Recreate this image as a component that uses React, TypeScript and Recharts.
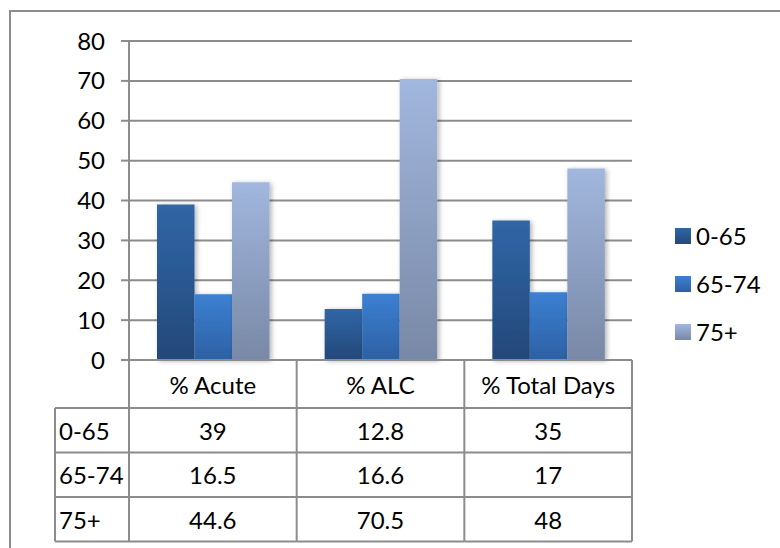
import React from 'react';
import { BarChart, Bar, XAxis, YAxis, CartesianGrid, Legend } from 'recharts';

// Categories and series values
const categories = ['% Acute', '% ALC', '% Total Days'];
const seriesNames = ['0-65', '65-74', '75+'];
const values0to65 = [39, 12.8, 35];
const values65to74 = [16.5, 16.6, 17];
const values75plus = [44.6, 70.5, 48];
const yTicks = [0, 10, 20, 30, 40, 50, 60, 70, 80];

const seriesValues = [values0to65, values65to74, values75plus];
const seriesKeys = ['s0', 's1', 's2'];

const data = categories.map((c, i) => ({
  category: c,
  s0: values0to65[i],
  s1: values65to74[i],
  s2: values75plus[i],
}));

// Geometry
const W = 780;
const H = 548;
const PLOT_LEFT = 129;
const PLOT_RIGHT = 632;
const PLOT_TOP = 41;
const PLOT_BOTTOM = 360;
const Y_AXIS_W = 70;
const X_AXIS_H = 181;
const BAND = (PLOT_RIGHT - PLOT_LEFT) / categories.length;
const HEADER_H = 48;
const ROW_H = 44.5;
const LABEL_COL_LEFT = 55;
const TABLE_BOTTOM = PLOT_BOTTOM + HEADER_H + ROW_H * seriesNames.length;

const FONT = 'Lato, "Open Sans", sans-serif';
const FONT_SIZE = 24;
const LINE = '#8c8c8c';
const LINE_W = 2;

const gradients = [
  { id: 'grad0', top: '#3066a6', bottom: '#24487a' },
  { id: 'grad1', top: '#3c80d2', bottom: '#2d60a4' },
  { id: 'grad2', top: '#a2b7de', bottom: '#7888a6' },
];

// Category header plus the data table rows under the plot
function TableTick(props: any) {
  const { payload } = props;
  const idx = categories.indexOf(payload.value);
  const cx = payload.coordinate;
  const left = cx - BAND / 2;
  const right = cx + BAND / 2;
  const rowTop = (r: number) => PLOT_BOTTOM + HEADER_H + ROW_H * r;
  const isFirst = idx === 0;
  const lineLeft = isFirst ? LABEL_COL_LEFT : left;

  return (
    <g>
      {isFirst && (
        <line x1={left} y1={PLOT_BOTTOM} x2={left} y2={TABLE_BOTTOM} stroke={LINE} strokeWidth={LINE_W} />
      )}
      {isFirst && (
        <line x1={LABEL_COL_LEFT} y1={rowTop(0)} x2={LABEL_COL_LEFT} y2={TABLE_BOTTOM} stroke={LINE} strokeWidth={LINE_W} />
      )}
      <line x1={right} y1={PLOT_BOTTOM} x2={right} y2={TABLE_BOTTOM} stroke={LINE} strokeWidth={LINE_W} />
      {seriesNames.map((_, r) => (
        <line key={`h${r}`} x1={lineLeft} y1={rowTop(r)} x2={right} y2={rowTop(r)} stroke={LINE} strokeWidth={LINE_W} />
      ))}
      <line x1={lineLeft} y1={TABLE_BOTTOM} x2={right} y2={TABLE_BOTTOM} stroke={LINE} strokeWidth={LINE_W} />
      <text
        x={cx}
        y={PLOT_BOTTOM + HEADER_H / 2}
        textAnchor="middle"
        dominantBaseline="central"
        fontFamily={FONT}
        fontSize={FONT_SIZE}
        fill="#000"
      >
        {payload.value}
      </text>
      {seriesValues.map((vals, r) => (
        <text
          key={`v${r}`}
          x={cx}
          y={rowTop(r) + ROW_H / 2}
          textAnchor="middle"
          dominantBaseline="central"
          fontFamily={FONT}
          fontSize={FONT_SIZE}
          fill="#000"
        >
          {String(vals[idx])}
        </text>
      ))}
      {isFirst &&
        seriesNames.map((name, r) => (
          <text
            key={`n${r}`}
            x={LABEL_COL_LEFT + 4}
            y={rowTop(r) + ROW_H / 2}
            textAnchor="start"
            dominantBaseline="central"
            fontFamily={FONT}
            fontSize={FONT_SIZE}
            fill="#000"
          >
            {name}
          </text>
        ))}
    </g>
  );
}

function SideLegend() {
  return (
    <div style={{ fontFamily: FONT, fontSize: FONT_SIZE, color: '#000' }}>
      {seriesNames.map((name, i) => (
        <div key={name} style={{ display: 'flex', alignItems: 'center', height: 48 }}>
          <svg width={16} height={16} style={{ marginRight: 5 }}>
            <rect x={0} y={0} width={16} height={16} fill={`url(#${gradients[i].id})`} />
          </svg>
          <span style={{ lineHeight: '24px' }}>{name}</span>
        </div>
      ))}
    </div>
  );
}

export default function App() {
  return (
    <div
      style={{
        position: 'absolute',
        left: 0,
        top: 0,
        width: W,
        height: H,
        background: '#fff',
        overflow: 'hidden',
      }}
    >
      <div
        style={{
          position: 'absolute',
          left: 9,
          top: 10,
          width: 900,
          height: 700,
          border: `2px solid ${LINE}`,
        }}
      />
      <BarChart
        width={W}
        height={H}
        data={data}
        margin={{
          top: PLOT_TOP,
          right: W - PLOT_RIGHT,
          bottom: H - PLOT_BOTTOM - X_AXIS_H,
          left: PLOT_LEFT - Y_AXIS_W,
        }}
        barSize={BAND * 0.2237}
        barGap={0}
      >
        <defs>
          {gradients.map((g) => (
            <linearGradient key={g.id} id={g.id} x1="0" y1="0" x2="0" y2="1">
              <stop offset="0%" stopColor={g.top} />
              <stop offset="100%" stopColor={g.bottom} />
            </linearGradient>
          ))}
          <filter id="barShadow" x="-20%" y="-10%" width="150%" height="130%">
            <feDropShadow dx="2" dy="1" stdDeviation="2.5" floodColor="#000" floodOpacity="0.3" />
          </filter>
        </defs>
        <CartesianGrid horizontal vertical={false} stroke={LINE} strokeWidth={LINE_W} />
        <XAxis
          dataKey="category"
          height={X_AXIS_H}
          axisLine={{ stroke: LINE, strokeWidth: LINE_W }}
          tickLine={false}
          tick={<TableTick />}
          interval={0}
        />
        <YAxis
          width={Y_AXIS_W}
          domain={[0, 80]}
          ticks={yTicks}
          interval={0}
          axisLine={{ stroke: LINE, strokeWidth: LINE_W }}
          tickLine={{ stroke: LINE, strokeWidth: LINE_W }}
          tickSize={8}
          tickMargin={16}
          tick={{ fontFamily: FONT, fontSize: FONT_SIZE, fill: '#000' }}
        />
        <Legend
          layout="vertical"
          align="center"
          verticalAlign="middle"
          content={<SideLegend />}
          wrapperStyle={{ left: 675, top: 212, width: 105 }}
        />
        {seriesKeys.map((k, i) => (
          <Bar
            key={k}
            dataKey={k}
            name={seriesNames[i]}
            fill={`url(#${gradients[i].id})`}
            filter="url(#barShadow)"
            isAnimationActive={false}
          />
        ))}
      </BarChart>
    </div>
  );
}
